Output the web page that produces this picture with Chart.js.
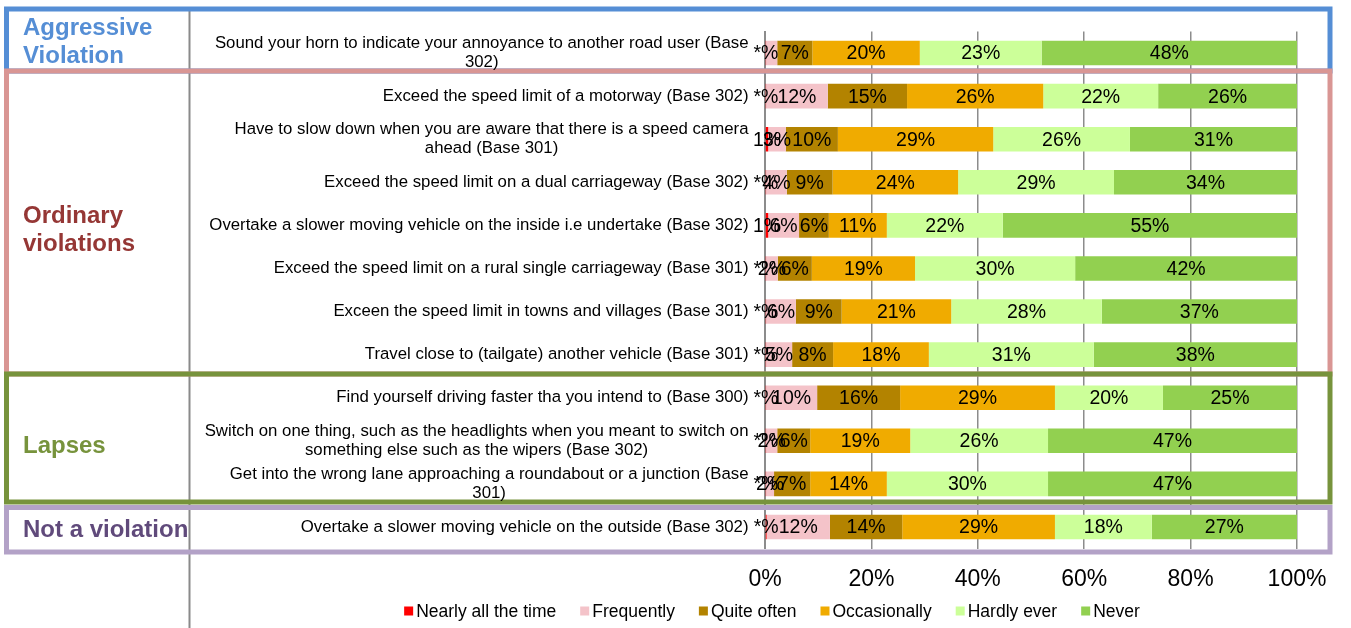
<!DOCTYPE html>
<html>
<head>
<meta charset="utf-8">
<script src="https://cdn.jsdelivr.net/npm/chart.js@4.4.1/dist/chart.umd.min.js"></script>
<style>
  html, body { margin: 0; padding: 0; background: #fff; }
  #wrap { width: 1351px; height: 628px; }
</style>
</head>
<body>
<div id="wrap"><canvas id="chart" width="1351" height="628"></canvas></div>
<script>
"use strict";

// ---------------------------------------------------------------------------
// Data (percent of respondents)
// ---------------------------------------------------------------------------
const categories = [
  ["Sound your horn to indicate your annoyance to another road user (Base", "302)"],
  ["Exceed the speed limit of a motorway (Base 302)"],
  ["Have to slow down when you are aware that there is a speed camera", "ahead (Base 301)"],
  ["Exceed the speed limit on a dual carriageway (Base 302)"],
  ["Overtake a slower moving vehicle on the inside i.e undertake (Base 302)"],
  ["Exceed the speed limit on a rural single carriageway (Base 301)"],
  ["Exceen the speed limit in towns and villages (Base 301)"],
  ["Travel close to (tailgate) another vehicle (Base 301)"],
  ["Find yourself driving faster tha you intend to (Base 300)"],
  ["Switch on one thing, such as the headlights when you meant to switch on", "something else such as the wipers (Base 302)"],
  ["Get into the wrong lane approaching a roundabout or a junction (Base", "301)"],
  ["Overtake a slower moving vehicle on the outside (Base 302)"],
];

const seriesNames = ["Nearly all the time", "Frequently", "Quite often", "Occasionally", "Hardly ever", "Never"];

// values below 0.5 are shown as "*%" in the source
const nearlyAllTheTime = [0.2, 0.2, 0.6, 0.2, 0.6, 0.2, 0.2, 0.2, 0.2, 0.2, 0.2, 0.3];
const frequently       = [2.1, 11.6, 3.3, 3.9, 5.8, 2.2, 5.6, 4.9, 9.6, 2.1, 1.5, 11.9];
const quiteOften       = [6.6, 14.9, 9.8, 8.6, 5.6, 6.4, 8.6, 7.7, 15.6, 6.2, 6.8, 13.6];
const occasionally     = [20.2, 25.6, 29.2, 23.6, 10.9, 19.4, 20.6, 18.0, 29.1, 18.8, 14.4, 28.7];
const hardlyEver       = [22.9, 21.6, 25.7, 29.3, 21.8, 30.1, 28.3, 31.0, 20.3, 25.9, 30.3, 18.2];
const never            = [48.0, 26.1, 31.4, 34.4, 55.3, 41.7, 36.7, 38.2, 25.2, 46.8, 46.8, 27.3];

// [row, series] whose data label is not shown in the source
const hiddenLabels = [[0, 1]];

const xTicks = [0, 20, 40, 60, 80, 100];

const groupTitles = [["Aggressive", "Violation"], ["Ordinary", "violations"], ["Lapses"], ["Not a violation"]];

// ---------------------------------------------------------------------------
// Styling
// ---------------------------------------------------------------------------
const FONT = "'Liberation Sans', Arial, sans-serif";
const seriesColors = ["#FF0000", "#F4C3C9", "#B38300", "#F0AB00", "#CCFF99", "#92D050"];
const groupStyle = [
  { border: "#558ED5", text: "#558ED5", top: 9, bottom: 71, base: 35 },
  { border: "#D99694", text: "#953735", top: 71, bottom: 374, base: 223 },
  { border: "#77933C", text: "#77933C", top: 374, bottom: 502, base: 453 },
  { border: "#B3A2C7", text: "#604A7B", top: 507.5, bottom: 552, base: 537 },
];
const BOX_L = 6.5, BOX_R = 1330, SEP_X = 189.5;

// ---------------------------------------------------------------------------
// Plugins
// ---------------------------------------------------------------------------
const decorations = {
  id: "decorations",
  afterDraw(chart) {
    const ctx = chart.ctx;
    ctx.save();
    // column separator
    ctx.strokeStyle = "#8a8a8a";
    ctx.lineWidth = 2;
    ctx.beginPath();
    ctx.moveTo(SEP_X, groupStyle[0].top);
    ctx.lineTo(SEP_X, chart.height);
    ctx.stroke();

    // group boxes + titles
    groupStyle.forEach((g) => {
      ctx.strokeStyle = g.border;
      ctx.lineWidth = 5;
      ctx.strokeRect(BOX_L, g.top, BOX_R - BOX_L, g.bottom - g.top);
    });
    ctx.font = "bold 24px " + FONT;
    ctx.textAlign = "left";
    ctx.textBaseline = "alphabetic";
    groupStyle.forEach((g, i) => {
      ctx.fillStyle = g.text;
      groupTitles[i].forEach((line, k) => ctx.fillText(line, 23, g.base + k * 28));
    });

    // category labels: right-aligned block, lines centred in the block
    const yScale = chart.scales.y;
    ctx.font = "16.8px " + FONT;
    ctx.fillStyle = "#000";
    ctx.textAlign = "center";
    ctx.textBaseline = "middle";
    const right = 748.5, lh = 19;
    categories.forEach((lines, i) => {
      const y = yScale.getPixelForValue(i);
      const w = Math.max(...lines.map((l) => ctx.measureText(l).width));
      const y0 = y - (lines.length - 1) * lh / 2;
      lines.forEach((l, k) => ctx.fillText(l, right - w / 2, y0 + k * lh));
    });

    // legend
    ctx.font = "17.5px " + FONT;
    ctx.textAlign = "left";
    const box = 9, gapBox = 3, gapItem = 24, cy = 611;
    const items = chart.data.datasets.map((ds) => ({
      label: ds.label, color: ds.backgroundColor, w: ctx.measureText(ds.label).width,
    }));
    const total = items.reduce((s, it) => s + box + gapBox + it.w, 0) + gapItem * (items.length - 1);
    let x = 772 - total / 2;
    items.forEach((it) => {
      ctx.fillStyle = it.color;
      ctx.fillRect(x, cy - box / 2, box, box);
      ctx.fillStyle = "#000";
      ctx.fillText(it.label, x + box + gapBox, cy + 1);
      x += box + gapBox + it.w + gapItem;
    });
    ctx.restore();
  },
};

const barLabels = {
  id: "barLabels",
  afterDatasetsDraw(chart) {
    const ctx = chart.ctx;
    ctx.save();
    ctx.font = "19.5px " + FONT;
    ctx.fillStyle = "#000";
    ctx.textAlign = "center";
    ctx.textBaseline = "middle";
    chart.data.datasets.forEach((ds, di) => {
      chart.getDatasetMeta(di).data.forEach((bar, i) => {
        if (hiddenLabels.some(([r, s]) => r === i && s === di)) return;
        const v = ds.data[i];
        const p = bar.getProps(["x", "y", "base"], true);
        const txt = v < 0.5 ? "*%" : Math.round(v) + "%";
        ctx.fillText(txt, (p.x + p.base) / 2, p.y + 1);
      });
    });
    ctx.restore();
  },
};

// ---------------------------------------------------------------------------
// Chart
// ---------------------------------------------------------------------------
const seriesData = [nearlyAllTheTime, frequently, quiteOften, occasionally, hardlyEver, never];

new Chart(document.getElementById("chart"), {
  type: "bar",
  data: {
    labels: categories.map((c) => c.join(" ")),
    datasets: seriesNames.map((name, i) => ({
      label: name,
      data: seriesData[i],
      backgroundColor: seriesColors[i],
      borderWidth: 0,
      barPercentage: 0.57,
      categoryPercentage: 1,
    })),
  },
  options: {
    indexAxis: "y",
    responsive: false,
    animation: false,
    devicePixelRatio: 1,
    layout: { padding: { top: 31.5, right: 54, left: 0, bottom: 0 } },
    plugins: { legend: { display: false }, tooltip: { enabled: false } },
    scales: {
      x: {
        stacked: true, min: 0, max: 100,
        afterBuildTicks: (s) => { s.ticks = xTicks.map((v) => ({ value: v })); },
        afterFit: (s) => { s.height = 79.5; },
        ticks: { callback: (v) => v + "%", color: "#000", padding: 17,
                 font: { family: FONT, size: 23 } },
        grid: { color: "#8c8c8c", lineWidth: 1.5, drawTicks: false },
        border: { display: false },
      },
      y: {
        stacked: true,
        afterFit: (s) => { s.width = 765; },
        ticks: { display: false },
        grid: { display: false },
        border: { display: true, color: "#8c8c8c", width: 2 },
      },
    },
  },
  plugins: [barLabels, decorations],
});
</script>
</body>
</html>
